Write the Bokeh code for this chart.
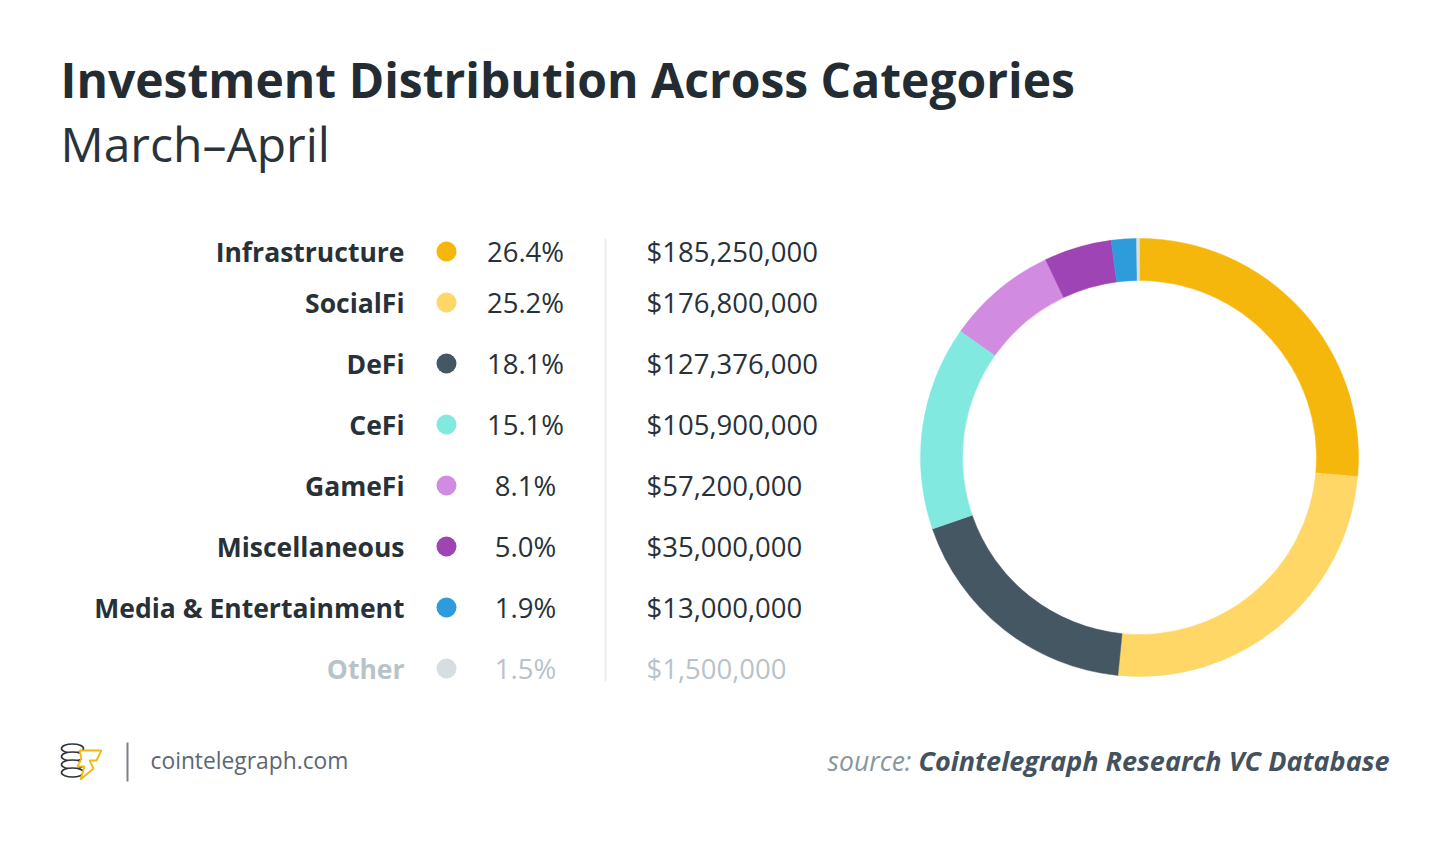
import math
from bokeh.plotting import figure
from bokeh.models import Range1d, ColumnDataSource
from bokeh.core.properties import value
from bokeh.embed import file_html
from bokeh.resources import INLINE

# ---------------- data ----------------
categories = ["Infrastructure", "SocialFi", "DeFi", "CeFi", "GameFi",
              "Miscellaneous", "Media & Entertainment", "Other"]
percent_labels = ["26.4%", "25.2%", "18.1%", "15.1%", "8.1%", "5.0%", "1.9%", "1.5%"]
amounts = [185250000, 176800000, 127376000, 105900000, 57200000,
           35000000, 13000000, 1500000]
colors = ["#F5B70B", "#FFD766", "#465764", "#82E9E1", "#D18BE0",
          "#9E44B5", "#2E9BDB", "#D6DEE2"]
title = "Investment Distribution Across Categories"
subtitle = "March\u2013April"

# ---------------- layout helpers ----------------
W, H = 1434, 826
def X(px):
    return px
def Y(px):
    return H - px

FONT = value("Open Sans")
DARK = "#283138"
OTHER_C = "#B7C3C9"

p = figure(width=W, height=H, output_backend="svg", toolbar_location=None,
           x_range=Range1d(0, W), y_range=Range1d(0, H),
           min_border=0, outline_line_color=None)
p.axis.visible = False
p.grid.visible = False
p.background_fill_color = "white"
p.border_fill_color = "white"

# title & subtitle
p.text(x=[X(60)], y=[Y(79)], text=[title], text_font=FONT, text_font_style="bold",
       text_font_size="48px", text_color="#232C33", text_baseline="middle")
p.text(x=[X(60)], y=[Y(143)], text=[subtitle], text_font=FONT,
       text_font_size="48px", text_color="#2A333A", text_baseline="middle")

# table rows
row_y = []
for i in range(len(categories)):
    row_y.append(251 if i == 0 else 302 + (i - 1) * 61)
ys = [Y(v) for v in row_y]
txt_colors = [DARK] * (len(categories) - 1) + [OTHER_C]
money = ["${:,}".format(a) for a in amounts]

src = ColumnDataSource(dict(y=ys, cat=categories, pct=percent_labels, money=money,
                            color=colors, tc=txt_colors))
p.text(x=X(404), y="y", text="cat", source=src, text_font=FONT, text_font_style="bold",
       text_font_size="26.5px", text_color="tc", text_align="right", text_baseline="middle")
p.scatter(x=X(446), y="y", source=src, size=20, fill_color="color", line_color=None)
p.text(x=X(525), y="y", text="pct", source=src, text_font=FONT,
       text_font_size="27.5px", text_color="tc", text_align="center", text_baseline="middle")
p.text(x=X(646), y="y", text="money", source=src, text_font=FONT,
       text_font_size="27.5px", text_color="tc", text_align="left", text_baseline="middle")
# separator
p.segment(x0=[X(605)], y0=[Y(238)], x1=[X(605)], y1=[Y(681)], line_color="#E9EDEF", line_width=2)

# donut
total = float(sum(amounts))
starts, ends = [], []
cum = 0.0
for a in amounts:
    starts.append(math.pi / 2 - 2 * math.pi * cum / total)
    cum += a
    ends.append(math.pi / 2 - 2 * math.pi * cum / total)
dsrc = ColumnDataSource(dict(start=starts, end=ends, color=colors))
p.annular_wedge(x=X(1139), y=Y(457), inner_radius=177, outer_radius=219,
                inner_radius_units="screen", outer_radius_units="screen",
                start_angle="start", end_angle="end", direction="clock",
                fill_color="color", line_color="color", line_width=0.5, source=dsrc)

# footer: logo (decorative)
for yy in [748, 756, 764, 772]:
    p.ellipse(x=[X(72)], y=[Y(yy)], width=22, height=9, fill_color="white",
              line_color="#2B343B", line_width=1.6)
p.patch(x=[X(v) for v in [79, 101, 96, 89, 93, 80, 84, 77, 81]],
        y=[Y(v) for v in [750, 750, 760, 760, 768, 779, 766, 766, 758]],
        fill_color="white", line_color="#F5B70B", line_width=1.8)
p.segment(x0=[X(127)], y0=[Y(742)], x1=[X(127)], y1=[Y(781)], line_color="#7A848B", line_width=2)
p.text(x=[X(150)], y=[Y(760)], text=["cointelegraph.com"], text_font=FONT,
       text_font_size="22.8px", text_color="#5B6873", text_baseline="middle")

# source
p.text(x=[X(911)], y=[Y(760)], text=["source:"], text_font=FONT, text_font_style="italic",
       text_font_size="26.5px", text_color="#8A959C", text_align="right", text_baseline="middle")
p.text(x=[X(1389)], y=[Y(760)], text=["Cointelegraph Research VC Database"], text_font=FONT,
       text_font_style="bold italic", text_font_size="27px", text_color="#44525E",
       text_align="right", text_baseline="middle")

open("out.html", "w").write(file_html(p, INLINE))
